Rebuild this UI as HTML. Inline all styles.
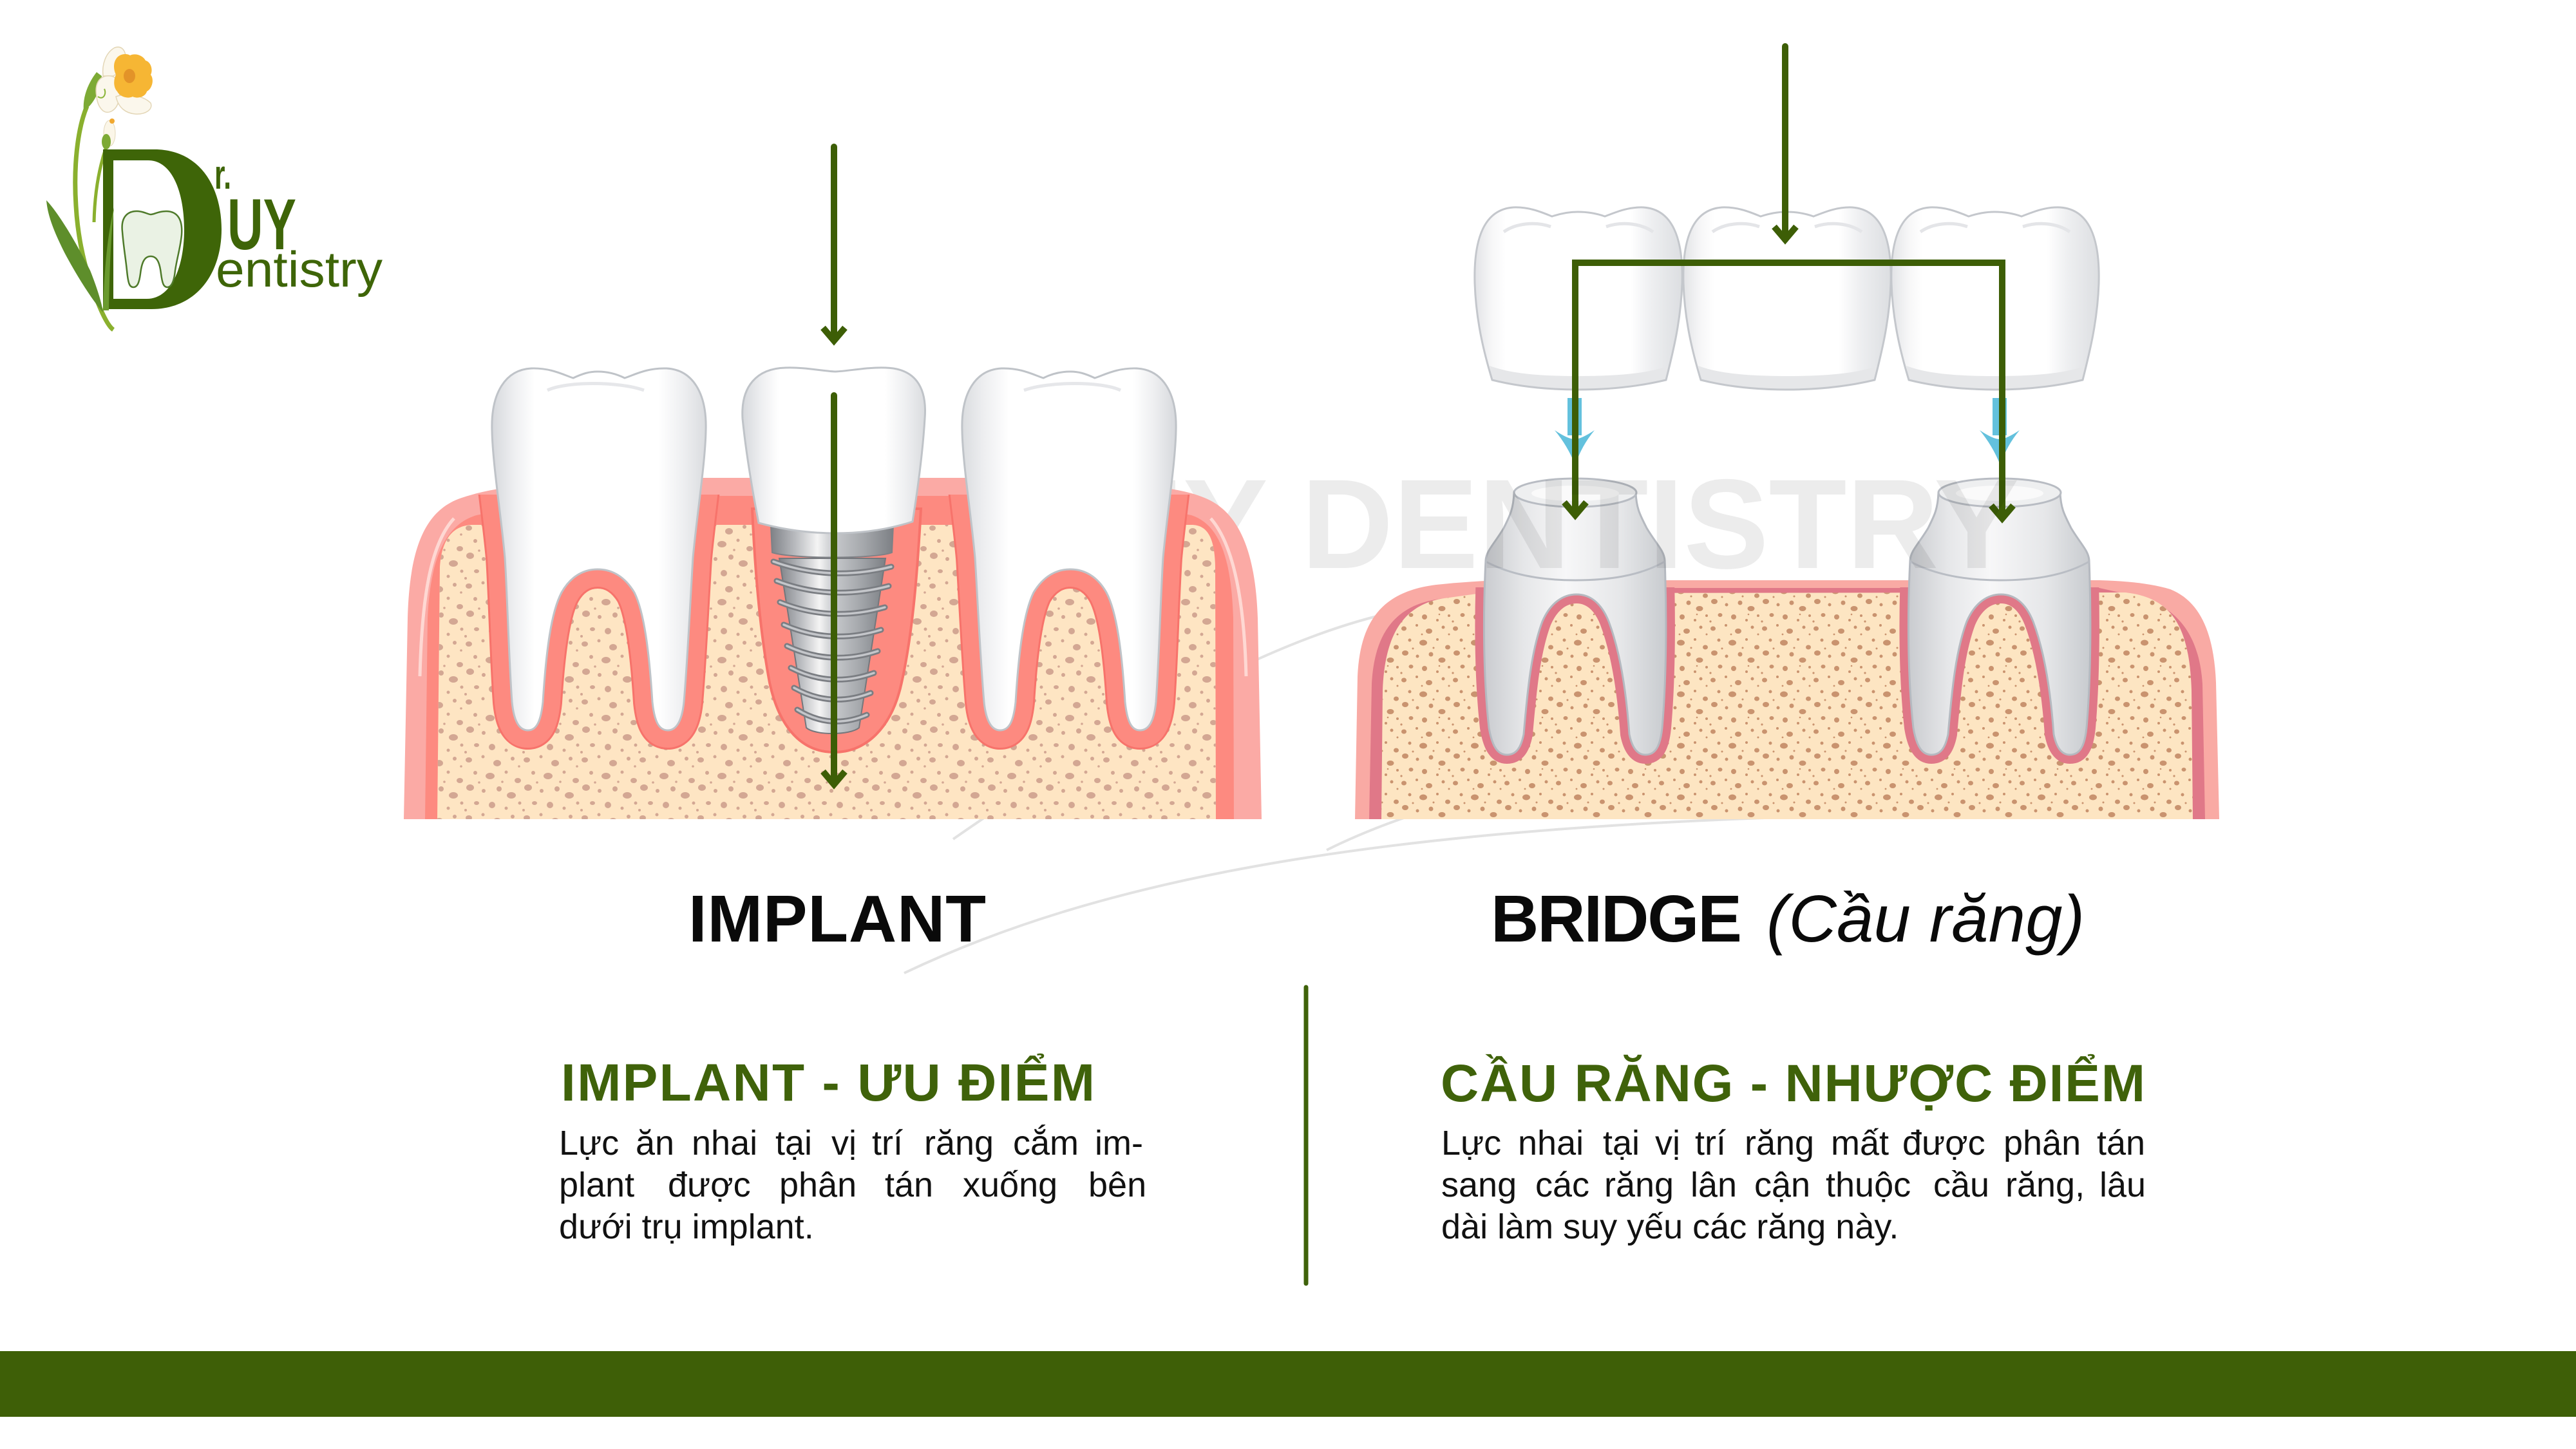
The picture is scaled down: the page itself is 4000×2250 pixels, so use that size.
<!DOCTYPE html>
<html><head><meta charset="utf-8">
<style>
html,body{margin:0;padding:0;background:#fff;}
svg{display:block;}
</style></head>
<body>
<svg xmlns="http://www.w3.org/2000/svg" width="4000" height="2250" viewBox="0 0 4000 2250" font-family="'Liberation Sans','DejaVu Sans',sans-serif">
<defs>
  <linearGradient id="toothGrad" x1="0" y1="0" x2="1" y2="0">
    <stop offset="0" stop-color="#D6D8DC"/>
    <stop offset="0.1" stop-color="#EDEEF0"/>
    <stop offset="0.2" stop-color="#FFFFFF"/>
    <stop offset="0.78" stop-color="#FFFFFF"/>
    <stop offset="0.9" stop-color="#EDEEF0"/>
    <stop offset="1" stop-color="#DADCDF"/>
  </linearGradient>
  <linearGradient id="crownGrad" x1="0" y1="0" x2="1" y2="0">
    <stop offset="0" stop-color="#E2E3E6"/>
    <stop offset="0.08" stop-color="#F6F6F7"/>
    <stop offset="0.15" stop-color="#FFFFFF"/>
    <stop offset="0.75" stop-color="#FFFFFF"/>
    <stop offset="0.85" stop-color="#EEEFF1"/>
    <stop offset="1" stop-color="#DCDEE1"/>
  </linearGradient>
  <linearGradient id="metalGrad" x1="0" y1="0" x2="1" y2="0">
    <stop offset="0" stop-color="#7F8287"/>
    <stop offset="0.2" stop-color="#B9BBBF"/>
    <stop offset="0.38" stop-color="#F4F4F4"/>
    <stop offset="0.5" stop-color="#C9CBCE"/>
    <stop offset="0.75" stop-color="#A6A9AD"/>
    <stop offset="1" stop-color="#7D8085"/>
  </linearGradient>
  <linearGradient id="stumpGrad" x1="0" y1="0" x2="1" y2="0">
    <stop offset="0" stop-color="#C9CBCF"/>
    <stop offset="0.22" stop-color="#E6E7E9"/>
    <stop offset="0.45" stop-color="#F7F7F8"/>
    <stop offset="0.75" stop-color="#E6E7E9"/>
    <stop offset="1" stop-color="#C8CBCF"/>
  </linearGradient>
  <pattern id="dI" width="90" height="90" patternUnits="userSpaceOnUse">
    <g fill="#D3A793">
      <ellipse cx="8" cy="10" rx="5" ry="4"/><circle cx="30" cy="5" r="2.5"/>
      <ellipse cx="52" cy="15" rx="6" ry="5"/><circle cx="76" cy="8" r="3"/>
      <circle cx="18" cy="30" r="3"/><ellipse cx="41" cy="35" rx="7" ry="5"/>
      <circle cx="66" cy="29" r="2.5"/><ellipse cx="84" cy="42" rx="5" ry="4"/>
      <ellipse cx="10" cy="53" rx="6" ry="5"/><circle cx="31" cy="58" r="3"/>
      <circle cx="55" cy="55" r="4"/><ellipse cx="74" cy="65" rx="7" ry="5"/>
      <ellipse cx="20" cy="77" rx="4" ry="3"/><circle cx="44" cy="80" r="5"/>
      <circle cx="66" cy="85" r="2.5"/><circle cx="87" cy="77" r="2.5"/>
      <circle cx="3" cy="88" r="2"/><circle cx="60" cy="44" r="1.8"/>
      <circle cx="24" cy="45" r="1.8"/><circle cx="86" cy="20" r="1.8"/>
    </g>
  </pattern>
  <pattern id="dB" width="80" height="80" patternUnits="userSpaceOnUse" patternTransform="translate(13,7)">
    <g fill="#C9936F">
      <ellipse cx="7" cy="9" rx="4" ry="3.5"/><circle cx="27" cy="4" r="2"/>
      <ellipse cx="46" cy="13" rx="5" ry="4"/><circle cx="68" cy="7" r="2.5"/>
      <circle cx="16" cy="27" r="2.5"/><ellipse cx="37" cy="31" rx="6" ry="4.5"/>
      <circle cx="59" cy="26" r="2"/><ellipse cx="75" cy="38" rx="4" ry="3.5"/>
      <ellipse cx="9" cy="47" rx="5" ry="4"/><circle cx="28" cy="52" r="2.5"/>
      <circle cx="49" cy="49" r="3.5"/><ellipse cx="66" cy="58" rx="5.5" ry="4"/>
      <ellipse cx="18" cy="68" rx="3.5" ry="3"/><circle cx="39" cy="71" r="4"/>
      <circle cx="59" cy="76" r="2"/><circle cx="77" cy="69" r="2"/>
      <circle cx="3" cy="78" r="1.6"/><circle cx="53" cy="39" r="1.5"/>
      <circle cx="21" cy="40" r="1.5"/><circle cx="77" cy="18" r="1.5"/>
      <circle cx="35" cy="18" r="1.4"/><circle cx="62" cy="67" r="1.3"/>
    </g>
  </pattern>
  <clipPath id="clipI"><rect x="600" y="768" width="1400" height="510"/></clipPath>
  <clipPath id="clipB"><rect x="2080" y="912" width="1400" height="365"/></clipPath>
  <path id="toothL" d="M764,669 C762,610 785,574 825,572 C855,571 875,582 890,587 C905,580 915,577 928,577 C945,577 958,581 970,587 C985,582 1005,571 1035,572 C1075,574 1098,610 1096,669 C1095,720 1082,800 1076,866 C1072,930 1068,1020 1062,1090 C1059,1120 1050,1134 1037,1134 C1022,1134 1016,1118 1013,1090 C1008,1010 1000,950 985,920 C970,895 950,884 928,884 C906,884 886,895 872,920 C856,950 848,1010 843,1090 C840,1118 834,1134 820,1134 C806,1134 798,1120 795,1090 C790,1020 788,930 784,866 C778,800 765,720 764,669 Z"/>
  <path id="stumpL" d="M2351,765 C2350,790 2345,800 2335,820 C2320,845 2308,855 2307,870 C2303,950 2303,1050 2312,1130 C2317,1160 2326,1172 2340,1172 C2355,1172 2362,1160 2366,1140 C2372,1070 2378,1010 2395,965 C2408,935 2428,923 2448,923 C2468,923 2486,935 2498,965 C2515,1010 2525,1070 2530,1140 C2534,1160 2542,1172 2555,1172 C2570,1172 2578,1160 2581,1130 C2588,1050 2588,950 2585,870 C2584,855 2572,845 2557,820 C2547,800 2541,790 2540,765 Z"/>
  <g id="crownG">
    <path d="M2290,440 C2288,370 2305,325 2350,322 C2375,321 2395,330 2410,336 C2425,331 2438,329 2450,329 C2462,329 2478,331 2492,336 C2508,330 2528,321 2552,322 C2597,325 2614,370 2612,440 C2610,500 2597,550 2587,590 C2545,600 2500,605 2451,605 C2402,605 2357,600 2317,590 C2305,550 2292,500 2290,440 Z" fill="url(#crownGrad)"/>
    <path d="M2317,590 C2357,600 2402,605 2451,605 C2500,605 2545,600 2587,590 L2591,568 C2560,580 2510,584 2451,584 C2390,584 2345,580 2313,568 Z" fill="#E6E7E9"/>
    <path d="M2335,360 C2355,346 2385,344 2408,352" stroke="#E4E5E8" stroke-width="5" fill="none"/>
    <path d="M2494,352 C2517,344 2547,346 2567,360" stroke="#E4E5E8" stroke-width="5" fill="none"/>
    <path d="M2290,440 C2288,370 2305,325 2350,322 C2375,321 2395,330 2410,336 C2425,331 2438,329 2450,329 C2462,329 2478,331 2492,336 C2508,330 2528,321 2552,322 C2597,325 2614,370 2612,440 C2610,500 2597,550 2587,590 C2545,600 2500,605 2451,605 C2402,605 2357,600 2317,590 C2305,550 2292,500 2290,440 Z" fill="none" stroke="#C4C7CC" stroke-width="3"/>
  </g>
</defs>

<rect width="4000" height="2250" fill="#fff"/>

<!-- ===== LOGO ===== -->
<g>
  <path d="M135,165 C120,200 114,260 118,320 C122,390 140,440 152,470 C162,495 170,508 176,512" stroke="#8AB02E" stroke-width="7" fill="none"/>
  <path d="M165,228 C154,260 147,300 146,345" stroke="#8AB02E" stroke-width="5" fill="none"/>
  <path d="M150,112 C136,130 128,152 130,172 C146,162 156,140 158,118 Z" fill="#7DAA35"/>
  <path d="M72,311 C92,332 120,380 140,420 C150,445 158,470 160,485 C146,470 120,430 100,392 C85,362 74,336 72,311 Z" fill="#5E8E2B"/>
  <path fill="#3E6508" fill-rule="evenodd" d="M160,232 L240,232 C310,232 344,290 344,356 C344,425 305,480 235,480 L160,480 Z M176,249 L230,249 C268,249 286,300 286,356 C286,415 266,464 228,464 L176,464 Z"/>
  <path d="M177,322 C172,370 170,420 169,482 L160,482 C162,420 166,370 177,322 Z" fill="#6A9A2E"/>
  <path d="M190,360 C187,335 200,327 215,328 C225,329 230,333 234,333 C240,333 245,328 258,328 C275,328 284,340 282,365 C280,385 275,400 272,420 C270,440 265,446 260,446 C254,446 252,440 250,425 C248,408 244,398 234,398 C224,398 220,408 218,425 C216,440 213,446 207,446 C201,446 199,440 197,420 C195,400 192,385 190,360 Z" fill="#EAF2E4" stroke="#4E7A2A" stroke-width="2.5"/>
  <path d="M160,118 C158,100 164,82 178,74 C190,70 196,80 195,92 C194,104 186,112 176,118 Z" fill="#FBF7EC" stroke="#E3D6B6" stroke-width="1.5"/>
  <path d="M150,150 C146,128 156,116 172,118 C186,120 188,140 184,158 C180,172 168,178 160,172 C154,167 151,160 150,150 Z" fill="#FBF7EC" stroke="#E3D6B6" stroke-width="1.5"/>
  <path d="M180,150 C196,144 222,148 234,160 C238,170 226,178 210,177 C196,176 184,168 180,150 Z" fill="#FBF7EC" stroke="#E3D6B6" stroke-width="1.5"/>
  <path d="M180,92 C184,84 196,82 202,86 C210,82 222,86 226,94 C234,96 238,108 234,116 C240,124 236,138 228,142 C226,150 214,154 206,150 C198,154 186,150 182,142 C176,136 176,124 180,116 C176,108 176,98 180,92 Z" fill="#F6B634"/>
  <ellipse cx="201" cy="118" rx="9" ry="11" fill="#E39328"/>
  <path d="M152,150 C160,156 166,146 162,138" stroke="#8CB53A" stroke-width="2" fill="none"/>
  <ellipse cx="170" cy="207" rx="9" ry="20" fill="#FBF6E8" stroke="#E3D8BC" stroke-width="1"/>
  <circle cx="174" cy="188" r="4" fill="#F0A830"/>
  <ellipse cx="165" cy="220" rx="7" ry="12" fill="#7DAA35"/>
  <text x="333" y="293" font-size="64" font-weight="bold" fill="#3E6508" textLength="26" lengthAdjust="spacingAndGlyphs">r.</text>
  <text x="353" y="387" font-size="112" font-weight="bold" fill="#3E6508" textLength="107" lengthAdjust="spacingAndGlyphs">UY</text>
  <text x="335" y="445" font-size="78" fill="#3E6508" textLength="259" lengthAdjust="spacingAndGlyphs">entistry</text>
</g>

<!-- ===== signature faint lines ===== -->
<g fill="none" stroke="#E2E2E2" stroke-width="4">
  <path d="M1404,1511 C1700,1370 2100,1290 2800,1268"/>
  <path d="M1480,1303 C1700,1150 1950,1000 2154,953"/>
  <path d="M2060,1320 C2200,1250 2400,1200 2700,1150"/>
</g>

<!-- ===== BRIDGE ILLUSTRATION ===== -->
<g>
  <path d="M2104,1272 L2108,1050 C2112,960 2150,918 2230,908 C2270,904 2300,902 2330,901 L3260,901 C3300,902 3340,906 3370,915 C3420,935 3438,990 3441,1060 L3446,1272 Z" fill="#F9AAA4"/>
  <path d="M2126,1272 L2130,1062 C2134,985 2165,940 2235,930 L2300,922 L2330,913 L3260,913 L3300,922 C3380,935 3415,985 3420,1062 L3424,1272 Z" fill="#E07888"/>
  <path d="M2145,1272 L2147,1072 C2150,985 2180,935 2250,928 L2300,921 L3300,920 C3380,928 3400,985 3403,1072 L3405,1272 Z" fill="#FDE5C2"/>
  <path d="M2145,1272 L2147,1072 C2150,985 2180,935 2250,928 L2300,921 L3300,920 C3380,928 3400,985 3403,1072 L3405,1272 Z" fill="url(#dB)"/>
  <g clip-path="url(#clipB)" fill="none" stroke="#E07888" stroke-width="28" stroke-linejoin="round">
    <use href="#stumpL"/>
    <use href="#stumpL" transform="translate(659,0)"/>
  </g>
  <g>
    <use href="#stumpL" fill="url(#stumpGrad)" stroke="#B5B9C0" stroke-width="3"/>
    <ellipse cx="2446" cy="765" rx="95" ry="22" fill="#EEEFF0" stroke="#B8BCC3" stroke-width="3"/>
    <ellipse cx="2446" cy="766" rx="68" ry="12" fill="#FAFAFA"/>
    <path d="M2307,872 C2350,895 2400,901 2446,901 C2495,901 2545,895 2585,872" stroke="#B9BDC4" stroke-width="3" fill="none"/>
  </g>
  <g transform="translate(659,0)">
    <use href="#stumpL" fill="url(#stumpGrad)" stroke="#B5B9C0" stroke-width="3"/>
    <ellipse cx="2446" cy="765" rx="95" ry="22" fill="#EEEFF0" stroke="#B8BCC3" stroke-width="3"/>
    <ellipse cx="2446" cy="766" rx="68" ry="12" fill="#FAFAFA"/>
    <path d="M2307,872 C2350,895 2400,901 2446,901 C2495,901 2545,895 2585,872" stroke="#B9BDC4" stroke-width="3" fill="none"/>
  </g>
  <use href="#crownG"/>
  <use href="#crownG" transform="translate(324,0)"/>
  <use href="#crownG" transform="translate(647,0)"/>
  <g fill="#63C1DD">
    <rect x="2434" y="618" width="22" height="58"/>
    <path d="M2414,668 Q2435,682 2445,682 Q2455,682 2476,668 Q2456,692 2446,722 Q2434,692 2414,668 Z"/>
    <rect x="3094" y="618" width="22" height="58"/>
    <path d="M3074,668 Q3095,682 3105,682 Q3115,682 3136,668 Q3116,692 3106,722 Q3094,692 3074,668 Z"/>
  </g>
  <g stroke="#3D5E06" stroke-width="10" fill="none">
    <line x1="2772" y1="72" x2="2772" y2="372" stroke-linecap="round"/>
    <polyline points="2755,352 2772,372 2789,352" stroke-linejoin="miter"/>
    <path d="M2446,800 L2446,408 L3109,408 L3109,805" stroke-linejoin="miter"/>
    <polyline points="2429,780 2446,800 2463,780" stroke-linejoin="miter"/>
    <polyline points="3092,785 3109,805 3126,785" stroke-linejoin="miter"/>
  </g>
</g>

<!-- watermark -->
<text x="1551" y="882" font-size="198" font-weight="bold" fill="#000" fill-opacity="0.075">DUY DENTISTRY</text>

<!-- ===== IMPLANT ILLUSTRATION ===== -->
<g>
  <path d="M627,1272 L633,960 C636,850 660,790 720,772 C745,764 765,760 790,757 L790,742 L1800,742 L1800,757 C1830,760 1855,766 1875,775 C1930,800 1950,870 1953,960 L1959,1272 Z" fill="#FBAAA5"/>
  <path d="M660,1272 L664,960 C668,870 690,815 740,800 L790,790 L790,770 L1800,770 L1800,790 L1850,800 C1895,815 1912,870 1915,960 L1916,1272 Z" fill="#FD8A80"/>
  <path d="M652,1050 C655,930 668,845 705,805" stroke="#FFE4DE" stroke-width="5" fill="none" opacity="0.8"/>
  <path d="M1935,1050 C1932,930 1915,845 1880,805" stroke="#FFE4DE" stroke-width="5" fill="none" opacity="0.8"/>
  <path d="M679,1272 L683,880 C686,835 705,815 735,815 L1850,815 C1875,815 1886,835 1887,880 L1888,1272 Z" fill="#FEE5C3"/>
  <path d="M679,1272 L683,880 C686,835 705,815 735,815 L1850,815 C1875,815 1886,835 1887,880 L1888,1272 Z" fill="url(#dI)"/>
  <g clip-path="url(#clipI)" fill="none" stroke-linejoin="round">
    <use href="#toothL" stroke="#F7736B" stroke-width="60"/>
    <use href="#toothL" stroke="#FD8A80" stroke-width="54"/>
    <use href="#toothL" transform="translate(2590,0) scale(-1,1)" stroke="#F7736B" stroke-width="60"/>
    <use href="#toothL" transform="translate(2590,0) scale(-1,1)" stroke="#FD8A80" stroke-width="54"/>
  </g>
  <path d="M1168,790 L1430,790 C1425,880 1418,980 1400,1060 C1385,1130 1345,1168 1295,1168 C1245,1168 1210,1130 1195,1060 C1180,980 1172,880 1168,790 Z" fill="#FD8A80" stroke="#F7736B" stroke-width="4"/>
  <use href="#toothL" fill="url(#toothGrad)" stroke="#BFC3C8" stroke-width="3"/>
  <use href="#toothL" transform="translate(2590,0) scale(-1,1)" fill="url(#toothGrad)" stroke="#BFC3C8" stroke-width="3"/>
  <path d="M850,606 C880,592 960,592 1000,606" stroke="#E6E7EA" stroke-width="5" fill="none"/>
  <path d="M1590,606 C1630,592 1710,592 1740,606" stroke="#E6E7EA" stroke-width="5" fill="none"/>
  <path d="M1210,867 L1375,867 L1334,1130 C1320,1142 1265,1142 1252,1130 Z" fill="url(#metalGrad)" stroke="#74777C" stroke-width="2"/>
  <g fill="none" stroke-linecap="round">
    <g stroke="#7A7D82" stroke-width="9">
      <path d="M1201,872 Q1290,904 1384,880"/>
      <path d="M1206,902 Q1290,934 1380,910"/>
      <path d="M1211,935 Q1290,967 1374,943"/>
      <path d="M1217,970 Q1290,1002 1368,978"/>
      <path d="M1222,1003 Q1290,1035 1363,1011"/>
      <path d="M1228,1037 Q1290,1069 1357,1045"/>
      <path d="M1233,1068 Q1290,1100 1352,1076"/>
      <path d="M1238,1102 Q1290,1134 1346,1110"/>
    </g>
    <g stroke="#C4C6CA" stroke-width="3.5">
      <path d="M1201,872 Q1290,904 1384,880"/>
      <path d="M1206,902 Q1290,934 1380,910"/>
      <path d="M1211,935 Q1290,967 1374,943"/>
      <path d="M1217,970 Q1290,1002 1368,978"/>
      <path d="M1222,1003 Q1290,1035 1363,1011"/>
      <path d="M1228,1037 Q1290,1069 1357,1045"/>
      <path d="M1233,1068 Q1290,1100 1352,1076"/>
      <path d="M1238,1102 Q1290,1134 1346,1110"/>
    </g>
  </g>
  <path d="M1197,816 L1387,816 L1385,858 C1360,868 1230,868 1199,858 Z" fill="url(#metalGrad)" stroke="#7E8186" stroke-width="2"/>
  <path d="M1153,650 C1150,600 1175,572 1220,571 C1250,570 1275,576 1297,577 C1320,576 1345,570 1375,571 C1420,572 1440,600 1436,650 C1433,700 1425,760 1417,810 C1380,822 1340,828 1297,828 C1255,828 1215,822 1178,812 C1168,760 1158,700 1153,650 Z" fill="url(#toothGrad)" stroke="#BFC3C8" stroke-width="3"/>
  <g stroke="#3D5E06" stroke-width="10" fill="none">
    <line x1="1295" y1="228" x2="1295" y2="526" stroke-linecap="round"/>
    <polyline points="1278,509 1295,529 1312,509" stroke-linejoin="miter"/>
    <line x1="1295" y1="614" x2="1295" y2="1216" stroke-linecap="round"/>
    <polyline points="1278,1198 1295,1218 1312,1198" stroke-linejoin="miter"/>
  </g>
</g>

<!-- ===== TITLES ===== -->
<text x="1069" y="1462" font-size="103" font-weight="bold" fill="#0A0A0A" textLength="462">IMPLANT</text>
<text x="2315" y="1462" font-size="103" font-weight="bold" fill="#0A0A0A" textLength="390">BRIDGE</text>
<text x="2743" y="1462" font-size="103" font-style="italic" fill="#0A0A0A" textLength="494">(Cầu răng)</text>

<text x="871" y="1709" font-size="82" font-weight="bold" fill="#3F620A" textLength="829">IMPLANT - ƯU ĐIỂM</text>
<text x="2237" y="1710" font-size="82" font-weight="bold" fill="#3F620A" textLength="1094">CẦU RĂNG - NHƯỢC ĐIỂM</text>

<g font-size="54" fill="#111">
  <text y="1793"><tspan x="868">Lực</tspan><tspan x="987">ăn</tspan><tspan x="1074">nhai</tspan><tspan x="1204">tại</tspan><tspan x="1291">vị</tspan><tspan x="1354">trí</tspan><tspan x="1435">răng</tspan><tspan x="1573">cắm</tspan><tspan x="1700">im-</tspan></text>
  <text y="1858"><tspan x="868">plant</tspan><tspan x="1037">được</tspan><tspan x="1210">phân</tspan><tspan x="1374">tán</tspan><tspan x="1495">xuống</tspan><tspan x="1690">bên</tspan></text>
  <text x="868" y="1923">dưới trụ implant.</text>

  <text y="1793"><tspan x="2238">Lực</tspan><tspan x="2357">nhai</tspan><tspan x="2489">tại</tspan><tspan x="2570">vị</tspan><tspan x="2632">trí</tspan><tspan x="2709">răng</tspan><tspan x="2843">mất</tspan><tspan x="2954">được</tspan><tspan x="3111">phân</tspan><tspan x="3256">tán</tspan></text>
  <text y="1858"><tspan x="2238">sang</tspan><tspan x="2384">các</tspan><tspan x="2491">răng</tspan><tspan x="2625">lân</tspan><tspan x="2724">cận</tspan><tspan x="2835">thuộc</tspan><tspan x="3002">cầu</tspan><tspan x="3114">răng,</tspan><tspan x="3260">lâu</tspan></text>
  <text x="2238" y="1923">dài làm suy yếu các răng này.</text>
</g>

<line x1="2028" y1="1533" x2="2028" y2="1993" stroke="#3F620A" stroke-width="7" stroke-linecap="round"/>

<rect x="0" y="2098" width="4000" height="102" fill="#3E5F07"/>
</svg>
</body></html>
